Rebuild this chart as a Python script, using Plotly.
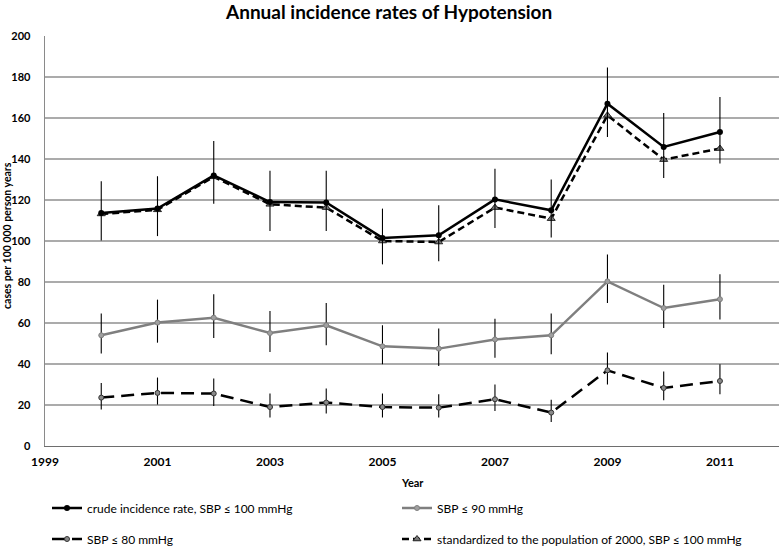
import plotly.graph_objects as go

years = [2000, 2001, 2002, 2003, 2004, 2005, 2006, 2007, 2008, 2009, 2010, 2011]
crude = [113.7, 115.8, 132.0, 119.0, 118.8, 101.5, 102.8, 120.3, 115.0, 167.0, 145.9, 153.2]
crude_hi = [129.1, 131.6, 148.8, 134.3, 134.3, 115.8, 117.4, 135.3, 130.0, 184.6, 162.4, 170.3]
crude_lo = [100.3, 102.4, 118.2, 104.9, 104.9, 88.6, 90.1, 106.3, 101.7, 150.7, 130.7, 137.8]
standardized = [113.2, 115.2, 131.3, 117.9, 116.3, 100.0, 99.5, 116.3, 110.9, 161.3, 139.7, 145.1]
sbp90 = [54.0, 60.2, 62.6, 55.1, 58.9, 48.6, 47.5, 52.0, 54.0, 80.3, 67.3, 71.6]
sbp90_hi = [64.6, 71.4, 74.0, 65.9, 69.8, 58.9, 57.3, 62.1, 64.6, 93.4, 78.7, 83.8]
sbp90_lo = [45.1, 50.4, 52.7, 45.9, 49.1, 39.9, 39.0, 43.1, 44.7, 69.8, 57.6, 61.7]
sbp80 = [23.6, 25.9, 25.6, 19.0, 21.2, 19.0, 18.7, 22.8, 16.3, 36.9, 28.3, 31.7]
sbp80_hi = [30.7, 33.4, 32.9, 25.6, 28.0, 25.6, 25.2, 30.0, 22.6, 45.6, 36.4, 39.9]
sbp80_lo = [17.8, 20.2, 19.5, 13.9, 15.8, 13.9, 13.9, 17.1, 11.7, 30.0, 22.3, 25.2]

x_ticks = [1999, 2001, 2003, 2005, 2007, 2009, 2011]
y_ticks = [0, 20, 40, 60, 80, 100, 120, 140, 160, 180, 200]

names = [
    "crude incidence rate, SBP \u2264 100 mmHg",
    "SBP \u2264 90 mmHg",
    "SBP \u2264 80 mmHg",
    "standardized to the population of 2000, SBP \u2264 100 mmHg",
]

FONT = "Lato, Calibri, Carlito, sans-serif"


def err(vals, hi, lo):
    return dict(
        type="data", symmetric=False,
        array=[h - v for h, v in zip(hi, vals)],
        arrayminus=[v - l for v, l in zip(vals, lo)],
        color="black", thickness=1.1, width=0,
    )


fig = go.Figure()

# standardized (drawn first so crude sits on top)
fig.add_trace(go.Scatter(
    x=years, y=standardized, name=names[3], mode="lines+markers",
    line=dict(color="black", width=2.5, dash="7px,4px"),
    marker=dict(symbol="triangle-up", size=7, color="#7a7a7a",
                line=dict(color="#222222", width=1)),
    legend="legend4",
))
fig.add_trace(go.Scatter(
    x=years, y=crude, name=names[0], mode="lines+markers",
    line=dict(color="black", width=2.5),
    marker=dict(symbol="circle", size=6, color="black"),
    error_y=err(crude, crude_hi, crude_lo),
    legend="legend",
))
fig.add_trace(go.Scatter(
    x=years, y=sbp90, name=names[1], mode="lines+markers",
    line=dict(color="#7f7f7f", width=2.5),
    marker=dict(symbol="circle", size=5, color="#a0a0a0",
                line=dict(color="#7f7f7f", width=1)),
    error_y=err(sbp90, sbp90_hi, sbp90_lo),
    legend="legend2",
))
fig.add_trace(go.Scatter(
    x=years, y=sbp80, name=names[2], mode="lines+markers",
    line=dict(color="black", width=2.5, dash="13px,7px"),
    marker=dict(symbol="circle", size=5, color="#8a8a8a",
                line=dict(color="#333333", width=1)),
    error_y=err(sbp80, sbp80_hi, sbp80_lo),
    legend="legend3",
))


def leg(xpx, ypx):
    return dict(
        orientation="h", xref="container", yref="container",
        x=xpx / 779, y=1 - ypx / 553,
        xanchor="left", yanchor="middle",
        font=dict(family=FONT, size=12, color="black"),
        bgcolor="rgba(0,0,0,0)", borderwidth=0,
        itemclick=False, itemdoubleclick=False,
    )


fig.update_layout(
    width=779, height=553,
    margin=dict(l=45, r=0, t=36, b=107),
    paper_bgcolor="white", plot_bgcolor="white",
    font=dict(family=FONT, color="black"),
    showlegend=True,
    hovermode=False,
    legend=leg(47, 508),
    legend2=leg(397, 508),
    legend3=leg(47, 539),
    legend4=leg(397, 539),
    xaxis=dict(
        range=[1999, 2012.05], tickvals=x_ticks, ticktext=[str(t) for t in x_ticks],
        showgrid=False, zeroline=False, showline=True, linecolor="#6e6e6e", linewidth=1.3,
        mirror=False,
        ticks="outside", ticklen=4, tickcolor="rgba(0,0,0,0)",
        tickfont=dict(family=FONT, size=12, color="black", weight="bold"),
    ),
    yaxis=dict(
        range=[0, 200], tickvals=y_ticks,
        showgrid=True, gridcolor="#ababab", gridwidth=1.3,
        zeroline=False, showline=True, linecolor="#8a8a8a", linewidth=1.3,
        mirror=False,
        ticks="outside", ticklen=11, tickcolor="rgba(0,0,0,0)",
        tickfont=dict(family=FONT, size=11, color="black", weight="bold"),
    ),
    annotations=[
        dict(text="<b>Annual incidence rates of Hypotension</b>", xref="paper", yref="paper",
             x=(388 - 45) / 734, y=1 + 24 / 410, xanchor="center", yanchor="middle",
             showarrow=False, font=dict(family=FONT, size=19, color="black")),
        dict(text="<b>Year</b>", xref="paper", yref="paper",
             x=0.5, y=-(482 - 446) / 410, xanchor="center", yanchor="middle",
             showarrow=False, font=dict(family=FONT, size=11, color="black")),
        dict(text="<b>cases per 100 000 person years</b>", xref="paper", yref="paper",
             x=-(45 - 7) / 734, y=(446 - 236) / 410, xanchor="center", yanchor="middle",
             textangle=-90, showarrow=False, font=dict(family=FONT, size=10.5, color="black")),
    ],
)

fig.write_html(
    "out.html",
    config={"displayModeBar": False, "staticPlot": True},
    post_script="document.body.style.margin='0';document.body.style.overflow='hidden';",
)
